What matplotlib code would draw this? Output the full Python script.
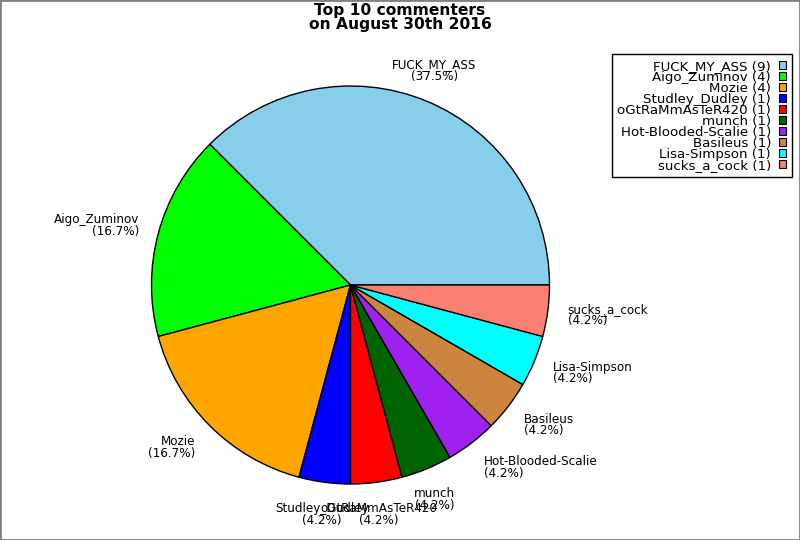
import numpy as np
import matplotlib
matplotlib.use("Agg")
import matplotlib.pyplot as plt
from matplotlib.patches import Rectangle, Patch

names = ["FUCK_MY_ASS", "Aigo_Zuminov", "Mozie", "Studley_Dudley", "oGtRaMmAsTeR420",
         "munch", "Hot-Blooded-Scalie", "Basileus", "Lisa-Simpson", "sucks_a_cock"]
counts = [9, 4, 4, 1, 1, 1, 1, 1, 1, 1]
colors = ["#87CEEB", "#00FF00", "#FFA500", "#0000FF", "#FF0000",
          "#006400", "#A020F0", "#CD853F", "#00FFFF", "#FA8072"]
title = "Top 10 commenters\non August 30th 2016"

W, H, DPI = 800, 540, 100
fig = plt.figure(figsize=(W / DPI, H / DPI), dpi=DPI)
plt.rcParams['font.family'] = ['DejaVu Sans']

cx, cy, R = 350.5, 285.0, 199.0
half = 240.0
lim = half / R
ax = fig.add_axes([(cx - half) / W, (H - cy - half) / H, 2 * half / W, 2 * half / H])

wedges, _ = ax.pie(counts, colors=colors, startangle=0, counterclock=True,
                   wedgeprops=dict(edgecolor="black", linewidth=1.0))
ax.set_xlim(-lim, lim)
ax.set_ylim(-lim, lim)
ax.set_aspect('auto')
ax.axis('off')

total = float(sum(counts))
label_fs = 12 * 72 / DPI
px = 1.0 / R  # one pixel in data units
for w, name, c in zip(wedges, names, counts):
    mid = np.deg2rad((w.theta1 + w.theta2) / 2.0)
    cs, sn = np.cos(mid), np.sin(mid)
    x, y = 1.1 * cs, 1.1 * sn
    txt = f"{name}\n({100 * c / total:.1f}%)"
    if abs(cs) < 0.5:
        ha = "center"
        va = "bottom" if sn > 0 else "top"
    else:
        ha = "left" if cs > 0 else "right"
        va = "center"
        y = y + sn * 11 * px
    ax.text(x, y, txt, ha=ha, va=va, ma="center" if ha == "center" else ha,
            fontsize=label_fs, linespacing=0.85)

fig.text(0.5, 1 - 3 / H, title, ha="center", va="top", fontsize=11.2,
         fontweight="bold", linespacing=0.9)

handles = [Patch(facecolor=col, edgecolor="black", linewidth=0.8) for col in colors]
labels = [f"{n} ({c})" for n, c in zip(names, counts)]
leg_fs = 13.35 * 72 / DPI
leg = fig.legend(handles, labels, loc="upper right", bbox_to_anchor=(792 / W, 1 - 54 / H),
                 bbox_transform=fig.transFigure, borderaxespad=0, markerfirst=False,
                 fontsize=leg_fs, labelspacing=-0.15, handlelength=0.55,
                 handleheight=0.6, handletextpad=0.6, borderpad=0.42, fancybox=False,
                 framealpha=1, edgecolor="black")
leg.get_frame().set_linewidth(1.0)

fig.patches.append(Rectangle((0, 0), 1, 1, transform=fig.transFigure, fill=False,
                             edgecolor="#808080", linewidth=2))
fig.savefig("out.png", dpi=DPI)
